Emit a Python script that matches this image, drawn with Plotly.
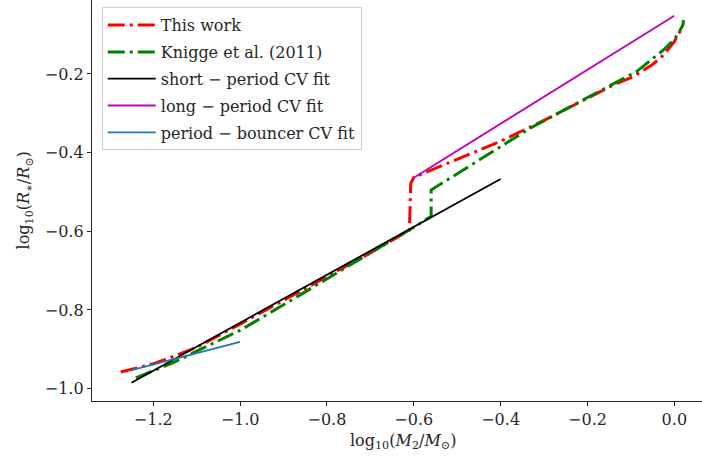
import plotly.graph_objects as go

# Mass-radius relation: this work
this_work_logm = [-1.275, -1.2, -1.15, -1.1, -1.0, -0.9, -0.8, -0.7, -0.61, -0.607, -0.6,
                  -0.5, -0.4, -0.3, -0.2, -0.14, -0.095, -0.05, -0.025, 0.0, 0.01, 0.02]
this_work_logr = [-0.958, -0.937, -0.917, -0.895, -0.836, -0.775, -0.715, -0.655, -0.597, -0.478, -0.463,
                  -0.417, -0.371, -0.318, -0.262, -0.228, -0.207, -0.176, -0.152, -0.118, -0.097, -0.08]

# Knigge et al. (2011) donor sequence
knigge_logm = [-1.24, -1.2, -1.15, -1.1, -1.0, -0.9, -0.8, -0.7, -0.6, -0.56, -0.56,
               -0.5, -0.4, -0.332, -0.2, -0.087, -0.025, 0.0, 0.012, 0.02, 0.021]
knigge_logr = [-0.973, -0.955, -0.932, -0.905, -0.852, -0.787, -0.72, -0.655, -0.59, -0.562, -0.495,
               -0.454, -0.385, -0.338, -0.26, -0.194, -0.139, -0.112, -0.092, -0.075, -0.063]

# Empirical CV fits
short_logm = [-1.25, -0.4]
short_logr = [-0.985, -0.467]
long_logm = [-0.6, 0.0]
long_logr = [-0.464, -0.052]
bouncer_logm = [-1.25, -1.0]
bouncer_logr = [-0.953, -0.881]

x_ticks = [-1.2, -1.0, -0.8, -0.6, -0.4, -0.2, 0.0]
y_ticks = [-1.0, -0.8, -0.6, -0.4, -0.2]

FONT = "DejaVu Serif"
INK = "#262626"
DASHDOT = "17px,5px,3px,5px"

fig = go.Figure()
fig.add_trace(go.Scatter(x=this_work_logm, y=this_work_logr, mode="lines", name="This work",
                         legendgroup="a", line=dict(color="#ff0000", width=3, dash=DASHDOT)))
fig.add_trace(go.Scatter(x=knigge_logm, y=knigge_logr, mode="lines", name="Knigge et al. (2011)",
                         legendgroup="b", line=dict(color="#008000", width=3, dash=DASHDOT)))
fig.add_trace(go.Scatter(x=short_logm, y=short_logr, mode="lines", name="short \u2212 period CV fit",
                         legendgroup="c", line=dict(color="#000000", width=1.8)))
fig.add_trace(go.Scatter(x=long_logm, y=long_logr, mode="lines", name="long \u2212 period CV fit",
                         legendgroup="d", line=dict(color="#bf00bf", width=1.8)))
fig.add_trace(go.Scatter(x=bouncer_logm, y=bouncer_logr, mode="lines", name="period \u2212 bouncer CV fit",
                         legendgroup="e", line=dict(color="#1f77b4", width=1.8)))

axis_common = dict(
    showgrid=False, zeroline=False, showline=True, linecolor=INK, linewidth=1.3,
    ticks="outside", ticklen=4, tickwidth=1.2, tickcolor=INK,
    tickfont=dict(family=FONT, size=16, color=INK), mirror=False,
)

fig.update_layout(
    width=702, height=462,
    margin=dict(l=92, r=0, t=0, b=61),
    paper_bgcolor="white", plot_bgcolor="white",
    font=dict(family=FONT, size=16, color=INK),
    xaxis=dict(range=[-1.341, 0.0637], tickvals=x_ticks, tickformat=".1f", **axis_common),
    yaxis=dict(range=[-1.0316, -0.012], tickvals=y_ticks, tickformat=".1f", **axis_common),
    showlegend=True,
    legend=dict(
        x=0.016, y=0.982, xanchor="left", yanchor="top",
        bgcolor="white", bordercolor="#d0d0d0", borderwidth=1,
        font=dict(family=FONT, size=16, color=INK),
        tracegroupgap=3, itemwidth=48,
    ),
    annotations=[
        dict(text="log<sub>10</sub>(<i>M</i><sub>2</sub>/<i>M</i><sub>\u2299</sub>)",
             xref="paper", yref="paper", x=0.51, y=-0.102, xanchor="center", yanchor="middle",
             showarrow=False, font=dict(family=FONT, size=16, color=INK)),
        dict(text="log<sub>10</sub>(<i>R</i><sub>\u2217</sub>/<i>R</i><sub>\u2299</sub>)",
             xref="paper", yref="paper", x=-0.11, y=0.5, xanchor="center", yanchor="middle",
             textangle=-90, showarrow=False, font=dict(family=FONT, size=16, color=INK)),
    ],
)

fig.write_html("out.html")
